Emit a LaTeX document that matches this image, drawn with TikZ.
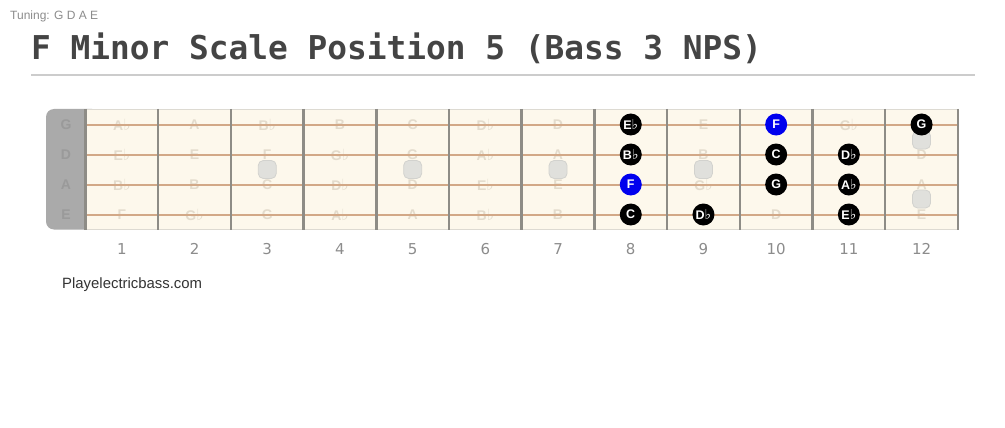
\documentclass[tikz,border=0pt]{standalone}
\usepackage{fontspec}
\setmainfont{Liberation Sans}
\newfontfamily\dejavu{DejaVu Sans}
\newfontfamily\monofam{DejaVu Sans Mono}
\newcommand{\fl}{{\dejavu\fontsize{1.1em}{1em}\selectfont ♭}}
\definecolor{boardc}{HTML}{FDF8EC}
\definecolor{boardedge}{HTML}{DDDAD2}
\definecolor{strgc}{HTML}{D2A887}
\definecolor{fretc}{HTML}{8E8C86}
\definecolor{nutc}{HTML}{AAAAAA}
\definecolor{nutlet}{HTML}{9A9A9A}
\definecolor{faintc}{HTML}{E3DBCC}
\definecolor{inlayc}{HTML}{E0E0DC}
\definecolor{inlayb}{HTML}{D2D2CE}
\definecolor{titlec}{HTML}{444444}
\definecolor{rulec}{HTML}{CCCCCC}
\definecolor{numc}{HTML}{8C8C8C}
\definecolor{markc}{HTML}{333333}
\definecolor{rootc}{HTML}{0000EE}
\tikzset{
  faint/.style={inner sep=0, text=faintc, font=\bfseries\fontsize{14}{14}\selectfont},
  nutlabel/.style={inner sep=0, text=nutlet, font=\bfseries\fontsize{14}{14}\selectfont},
  note/.style={circle, fill=black, minimum size=22pt, inner sep=0, text=white, font=\bfseries\fontsize{12.5}{12.5}\selectfont},
  rootnote/.style={note, fill=rootc},
  inlay/.style={fill=inlayc, draw=inlayb, line width=0.8, rounded corners=5, minimum size=18pt, inner sep=0},
  fretnum/.style={inner sep=0, text=numc, font=\dejavu\fontsize{15}{15}\selectfont},
}
\begin{document}
\begin{tikzpicture}[x=1pt,y=-1pt]
\useasboundingbox (0,0) rectangle (1005,428);
\fill[white] (0,0) rectangle (1005,428);
% header
\node[anchor=west, inner sep=0, text=numc, font=\fontsize{12}{12}\selectfont] (tuning) at (10,16) {Tuning: G D A E};
\node[anchor=base west, inner sep=0, text=titlec, font=\monofam\bfseries\fontsize{32.8}{36}\selectfont] (title) at (31,60) {F Minor Scale Position 5 (Bass 3 NPS)};
\draw[rulec, line width=1.5] (31,75) -- (975,75);
% nut and board
\fill[nutc, rounded corners=8] (46,109) rectangle (100,229.5);
\fill[boardc] (85.5,109) rectangle (958,229.5);
\draw[boardedge, line width=0.8] (85.5,109) -- (958,109) (85.5,229.5) -- (958,229.5);
\foreach \s/\y in {G/124.5, D/154.5, A/184.5, E/214.5}
  \node[nutlabel] (nut-\s) at (66,\y) {\s};
% faint note names
\foreach \n/\t in {1/A\fl,2/A,3/B\fl,4/B,5/C,6/D\fl,7/D,9/E,11/G\fl}
  \node[faint] (fG-\n) at ({85.5+72.7*(\n-0.5)},124.5) {\t};
\foreach \n/\t in {1/E\fl,2/E,3/F,4/G\fl,5/G,6/A\fl,7/A,9/B,12/D}
  \node[faint] (fD-\n) at ({85.5+72.7*(\n-0.5)},154.5) {\t};
\foreach \n/\t in {1/B\fl,2/B,3/C,4/D\fl,5/D,6/E\fl,7/E,9/G\fl,12/A}
  \node[faint] (fA-\n) at ({85.5+72.7*(\n-0.5)},184.5) {\t};
\foreach \n/\t in {1/F,2/G\fl,3/G,4/A\fl,5/A,6/B\fl,7/B,10/D,12/E}
  \node[faint] (fE-\n) at ({85.5+72.7*(\n-0.5)},214.5) {\t};
% strings
\foreach \y in {124.5,154.5,184.5,214.5}
  \draw[strgc, line width=2] (84,\y) -- (958,\y);
% frets
\foreach \i in {0,...,12}
  \draw[fretc, line width=2.5] ({85.5+72.7*\i},109) -- ({85.5+72.7*\i},229.5);
% inlays
\foreach \n in {3,5,7,9}
  \node[inlay] (inlay-\n) at ({85.5+72.7*(\n-0.5)},169.5) {};
\node[inlay] (inlay-12a) at ({85.5+72.7*11.5},140) {};
\node[inlay] (inlay-12b) at ({85.5+72.7*11.5},199) {};
% scale notes
\node[note]     (G-8)  at ({85.5+72.7*7.5},124.5) {E\fl};
\node[rootnote] (G-10) at ({85.5+72.7*9.5},124.5) {F};
\node[note]     (G-12) at ({85.5+72.7*11.5},124.5) {G};
\node[note]     (D-8)  at ({85.5+72.7*7.5},154.5) {B\fl};
\node[note]     (D-10) at ({85.5+72.7*9.5},154.5) {C};
\node[note]     (D-11) at ({85.5+72.7*10.5},154.5) {D\fl};
\node[rootnote] (A-8)  at ({85.5+72.7*7.5},184.5) {F};
\node[note]     (A-10) at ({85.5+72.7*9.5},184.5) {G};
\node[note]     (A-11) at ({85.5+72.7*10.5},184.5) {A\fl};
\node[note]     (E-8)  at ({85.5+72.7*7.5},214.5) {C};
\node[note]     (E-9)  at ({85.5+72.7*8.5},214.5) {D\fl};
\node[note]     (E-11) at ({85.5+72.7*10.5},214.5) {E\fl};
% fret numbers
\foreach \n in {1,...,12}
  \node[fretnum] (num-\n) at ({85.5+72.7*(\n-0.5)},249) {\n};
\node[anchor=west, inner sep=0, text=markc, font=\fontsize{14.9}{14.9}\selectfont] (site) at (62,285) {Playelectricbass.com};
\end{tikzpicture}
\end{document}
